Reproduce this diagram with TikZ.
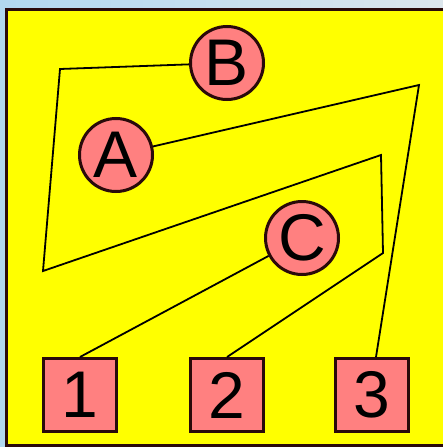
\documentclass[tikz,border=0pt]{standalone}
\usepackage{fontspec}
\setmainfont{Liberation Sans}
\definecolor{bgblue}{HTML}{B2D8EF}
\definecolor{bggrey}{HTML}{DCE6EC}
\definecolor{panelyellow}{HTML}{FFFF00}
\definecolor{nodepink}{HTML}{FF8080}
\definecolor{nodeedge}{HTML}{2A0A0A}
\usetikzlibrary{calc}

\begin{document}
\begin{tikzpicture}[x=1pt, y=-1pt,
  letter/.style={circle, draw=nodeedge, line width=3pt, fill=nodepink,
                 minimum size=73pt, inner sep=0pt, font=\fontsize{66}{66}\selectfont},
  number/.style={rectangle, draw=nodeedge, line width=3pt, fill=nodepink,
                 minimum size=73pt, inner sep=0pt, font=\fontsize{66}{66}\selectfont},
  wire/.style={line width=1.8pt, line join=miter},
]
  \useasboundingbox (0,0) rectangle (443,447);
  \shade[left color=bgblue, right color=bggrey] (0,0) rectangle (443,447);
  \draw[fill=panelyellow, draw=nodeedge, line width=3pt] (6,9.5) rectangle (447,445);

  \node[letter] (B) at (227,63) {B};
  \node[letter] (A) at (116,155) {A};
  \node[letter] (C) at (302,238) {C};

  \node[number] (n1) at (80,395) {1};
  \node[number] (n2) at (227,395) {2};
  \node[number] (n3) at (372,395) {3};

  \coordinate (k1) at (383,253);
  \coordinate (k2) at (381,155);
  \coordinate (k3) at (43,271);
  \coordinate (k4) at (60,69);
  \coordinate (k5) at (419,85);

  \draw[wire] (C) -- (n1.north);
  \draw[wire] (n2.north) -- (k1) -- (k2) -- (k3) -- (k4) -- (B);
  \draw[wire] ($(n3.north)+(4,0)$) -- (k5) -- (A);
\end{tikzpicture}
\end{document}
